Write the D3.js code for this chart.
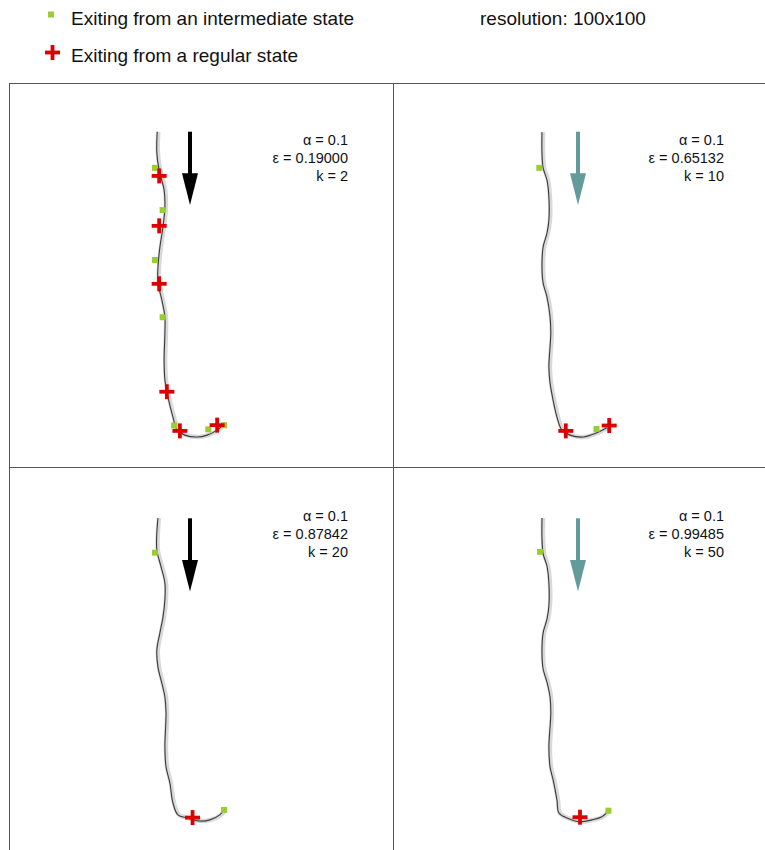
<!DOCTYPE html>
<html>
<head>
<meta charset="utf-8">
<script src="https://cdn.jsdelivr.net/npm/d3@7/dist/d3.min.js"></script>
<style>
  html, body { margin: 0; padding: 0; background: #fff; }
  svg { display: block; font-family: "Liberation Sans", Arial, sans-serif; }
</style>
</head>
<body>
<svg id="chart" width="765" height="850"></svg>
<script>
// Grid resolution of the state space
const gridSize = 100;

// Panel parameters
const alphas   = ["0.1", "0.1", "0.1", "0.1"];
const epsilons = ["0.19000", "0.65132", "0.87842", "0.99485"];
const ks       = ["2", "10", "20", "50"];

// Trajectories, in grid units (x, y)
const trajA = [[38.6,12.7],[38.5,18.2],[39.1,22.7],[40.4,27.9],[40.6,32.3],[40.1,37.5],[39.3,42.7],[38.8,47.9],[38.8,52.1],[39.8,56.5],[40.6,60.9],[40.6,65.1],[40.4,72.1],[40.6,77.3],[41.4,81.8],[42.7,87.0],[43.8,90.4],[45.8,91.7],[49.0,92.2],[51.6,91.7],[54.2,90.4],[55.7,89.1]];
const trajB = [[38.8,12.8],[38.8,18.2],[39.1,22.1],[40.1,25.3],[40.6,29.7],[40.6,35.7],[40.1,39.1],[39.1,42.7],[38.8,47.9],[39.1,52.1],[40.1,55.7],[40.9,60.9],[41.1,65.1],[40.6,74.0],[40.9,78.1],[41.7,82.6],[42.7,87.0],[44.0,90.4],[46.1,91.7],[49.5,92.2],[53.1,91.1],[55.7,89.8]];
const trajC = [[38.8,13.3],[38.5,17.2],[38.5,21.6],[39.6,26.0],[40.6,30.2],[40.6,34.6],[40.1,39.1],[39.3,43.2],[38.5,47.7],[38.8,52.1],[39.8,56.3],[40.6,59.9],[40.9,64.1],[40.6,72.9],[40.9,78.1],[41.9,82.3],[42.7,87.5],[44.0,90.6],[46.4,91.4],[49.7,92.2],[52.3,91.9],[54.9,90.6],[56.0,89.3]];
const trajD = [[38.8,13.3],[38.8,18.7],[39.1,22.6],[40.1,25.8],[40.6,30.2],[40.6,36.2],[40.1,39.6],[39.1,43.2],[38.8,48.4],[39.1,52.6],[40.1,56.0],[40.9,59.9],[41.1,64.1],[40.6,72.9],[40.9,78.1],[41.7,81.5],[42.7,86.7],[43.2,90.1],[45.3,91.4],[48.7,92.4],[51.8,91.9],[54.4,91.1],[56.0,89.6]];

// Exits from intermediate states (green) and regular states (red)
const interA = [[38.0,22.1],[40.0,33.1],[38.0,46.1],[40.0,61.0],[43.0,89.2],[51.9,90.2],[56.0,89.1]];
const regA   = [[39.1,24.2],[39.1,37.2],[39.1,52.3],[41.1,80.4],[44.5,90.6],[54.2,89.1]];
const interB = [[38.1,22.1],[53.0,90.1]];
const regB   = [[45.0,90.6],[56.3,89.2]];
const interC = [[38.0,22.3],[56.0,89.3]];
const regC   = [[47.8,91.3]];
const interD = [[38.3,22.1],[56.1,89.5]];
const regD   = [[48.7,91.2]];

const trajectories = [trajA, trajB, trajC, trajD];
const intermediates = [interA, interB, interC, interD];
const regulars = [regA, regB, regC, regD];

// Legend entries
const legendLabels = ["Exiting from an intermediate state", "Exiting from a regular state"];
const resolutionLabel = "resolution: " + gridSize + "x" + gridSize;

// Colours
const GREEN = "#9acd32";
const RED = "#dd0000";
const TEAL = "#639a9a";
const arrowColors = ["#000000", TEAL, "#000000", TEAL];

// Layout
const cell = 384;
const frameX = 9, frameY = 83;
const panelOrigins = [[frameX, frameY], [frameX + cell, frameY], [frameX, frameY + cell], [frameX + cell, frameY + cell]];
const labelRight = [339, 331, 339, 331];
const labelTop = [62, 62, 54, 54];
const arrowX = [181, 185, 181, 185];
const arrowTop = [48.7, 48.7, 51.3, 51.3];

const svg = d3.select("#chart");

// Legend
const legend = svg.append("g");
legend.append("rect").attr("x", 48).attr("y", 11.5).attr("width", 6).attr("height", 6).attr("fill", GREEN);
legend.append("text").attr("x", 71).attr("y", 24.5).attr("font-size", 19).attr("fill", "#111").text(legendLabels[0]);
function cross(g, cx, cy, half, w) {
  g.append("line").attr("x1", cx - half).attr("x2", cx + half).attr("y1", cy).attr("y2", cy)
    .attr("stroke", RED).attr("stroke-width", w);
  g.append("line").attr("x1", cx).attr("x2", cx).attr("y1", cy - half).attr("y2", cy + half)
    .attr("stroke", RED).attr("stroke-width", w);
}
cross(legend, 52.5, 52.5, 7.5, 3.8);
legend.append("text").attr("x", 71).attr("y", 62).attr("font-size", 19).attr("fill", "#111").text(legendLabels[1]);
legend.append("text").attr("x", 480).attr("y", 24.5).attr("font-size", 19).attr("fill", "#111").text(resolutionLabel);

// Scales map grid units to panel pixels
const xs = d3.scaleLinear().domain([0, gridSize]).range([0, cell]);
const ys = d3.scaleLinear().domain([0, gridSize]).range([0, cell]);
const line = d3.line().x(d => xs(d[0])).y(d => ys(d[1])).curve(d3.curveCatmullRom.alpha(0.5));

trajectories.forEach((traj, i) => {
  const [ox, oy] = panelOrigins[i];
  const g = svg.append("g").attr("transform", `translate(${ox},${oy})`);

  // visited cells (soft band) and trajectory
  g.append("path").attr("d", line(traj)).attr("fill", "none")
    .attr("stroke", "#d9d9d9").attr("stroke-width", 4.5).attr("transform", "translate(1,0)");
  g.append("path").attr("d", line(traj)).attr("fill", "none")
    .attr("stroke", "#3a3a3a").attr("stroke-width", 1.1);

  // green exit markers
  g.selectAll("rect.inter").data(intermediates[i]).join("rect").attr("class", "inter")
    .attr("x", d => xs(d[0]) - 3).attr("y", d => ys(d[1]) - 3)
    .attr("width", 6).attr("height", 6).attr("fill", GREEN);

  // red exit markers
  regulars[i].forEach(d => cross(g, xs(d[0]), ys(d[1]), 7.5, 3.8));

  // direction arrow
  const ax = arrowX[i], at = arrowTop[i];
  g.append("line").attr("x1", ax).attr("x2", ax).attr("y1", at).attr("y2", at + 44)
    .attr("stroke", arrowColors[i]).attr("stroke-width", 4);
  g.append("path")
    .attr("d", `M${ax - 8},${at + 41.6}L${ax + 8},${at + 41.6}L${ax},${at + 73.3}Z`)
    .attr("fill", arrowColors[i]);

  // parameter labels
  const t = g.append("g").attr("font-size", 14.5).attr("fill", "#111").attr("text-anchor", "end");
  const lx = labelRight[i], ly = labelTop[i];
  t.append("text").attr("x", lx).attr("y", ly).text("α = " + alphas[i]);
  t.append("text").attr("x", lx).attr("y", ly + 18).text("ε = " + epsilons[i]);
  t.append("text").attr("x", lx).attr("y", ly + 36).text("k = " + ks[i]);
});

// Panel frame
const frame = svg.append("g").attr("stroke", "#555").attr("stroke-width", 1).attr("fill", "none");
frame.append("rect").attr("x", frameX + 0.5).attr("y", frameY + 0.5).attr("width", cell * 2).attr("height", cell * 2);
frame.append("line").attr("x1", frameX + cell + 0.5).attr("x2", frameX + cell + 0.5).attr("y1", frameY).attr("y2", frameY + cell * 2);
frame.append("line").attr("x1", frameX).attr("x2", frameX + cell * 2).attr("y1", frameY + cell + 0.5).attr("y2", frameY + cell + 0.5);
</script>
</body>
</html>
